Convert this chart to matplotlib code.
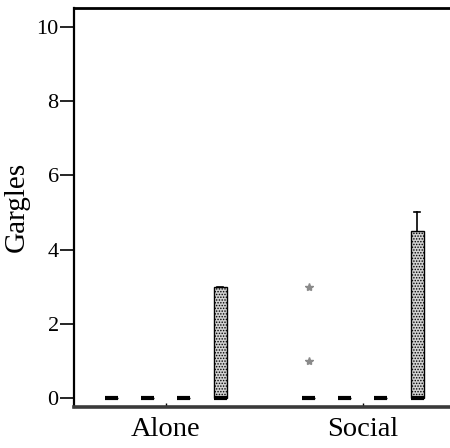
import matplotlib
matplotlib.use("Agg")
import matplotlib.pyplot as plt

# Gargle counts summarised per condition (four sub-groups each)
groups = ["Alone", "Social"]
q1 = [[0, 0, 0, 0], [0, 0, 0, 0]]
medians = [[0, 0, 0, 0], [0, 0, 0, 0]]
q3 = [[0, 0, 0, 3], [0, 0, 0, 4.5]]
whisk_lo = [[0, 0, 0, 0], [0, 0, 0, 0]]
whisk_hi = [[0, 0, 0, 3], [0, 0, 0, 5]]
outliers = [[[], [], [], []], [[1, 3], [], [], []]]
y_ticks = [0, 2, 4, 6, 8, 10]

plt.rcParams["font.family"] = ["Liberation Serif", "DejaVu Serif"]
plt.rcParams["hatch.linewidth"] = 0.7

fig = plt.figure(figsize=(4.5, 4.48), dpi=100)
ax = fig.add_axes([0.1644, 0.0915, 0.8356, 0.891])

offsets = [-1.5, -0.5, 0.5, 1.5]
step = 0.183
stats, positions = [], []
for g in range(len(groups)):
    for k in range(4):
        stats.append(dict(med=medians[g][k], q1=q1[g][k], q3=q3[g][k],
                          whislo=whisk_lo[g][k], whishi=whisk_hi[g][k],
                          fliers=outliers[g][k]))
        positions.append(g + offsets[k] * step)

bp = ax.bxp(stats, positions=positions, widths=0.066, patch_artist=True,
            showcaps=True, capwidths=0.035,
            boxprops=dict(facecolor="#d2d2d2", edgecolor="black",
                          linewidth=1.0, hatch="......"),
            medianprops=dict(color="black", linewidth=3, solid_capstyle="butt"),
            whiskerprops=dict(color="black", linewidth=1.2),
            capprops=dict(color="black", linewidth=1.2),
            flierprops=dict(marker="*", markersize=6, markerfacecolor="#8a8a8a",
                            markeredgecolor="#8a8a8a", linestyle="none"))

ax.set_xlim(-0.467, 1.442)
ax.set_ylim(-0.243, 10.51)
ax.set_xticks(range(len(groups)))
ax.set_xticklabels(groups, fontsize=20.5)
ax.set_yticks(y_ticks)
ax.set_yticklabels([str(t) for t in y_ticks], fontsize=16)
ax.tick_params(axis="y", direction="out", length=10, width=1.2, pad=1)
ax.tick_params(axis="x", direction="in", length=3, width=1, pad=7)
ax.set_ylabel("Gargles", fontsize=21, labelpad=5)

ax.spines["right"].set_visible(False)
ax.spines["left"].set_linewidth(1.6)
ax.spines["top"].set_linewidth(2)
ax.spines["bottom"].set_linewidth(2.6)
ax.spines["bottom"].set_color("#3a3a3a")

fig.savefig("out.png", dpi=100)
